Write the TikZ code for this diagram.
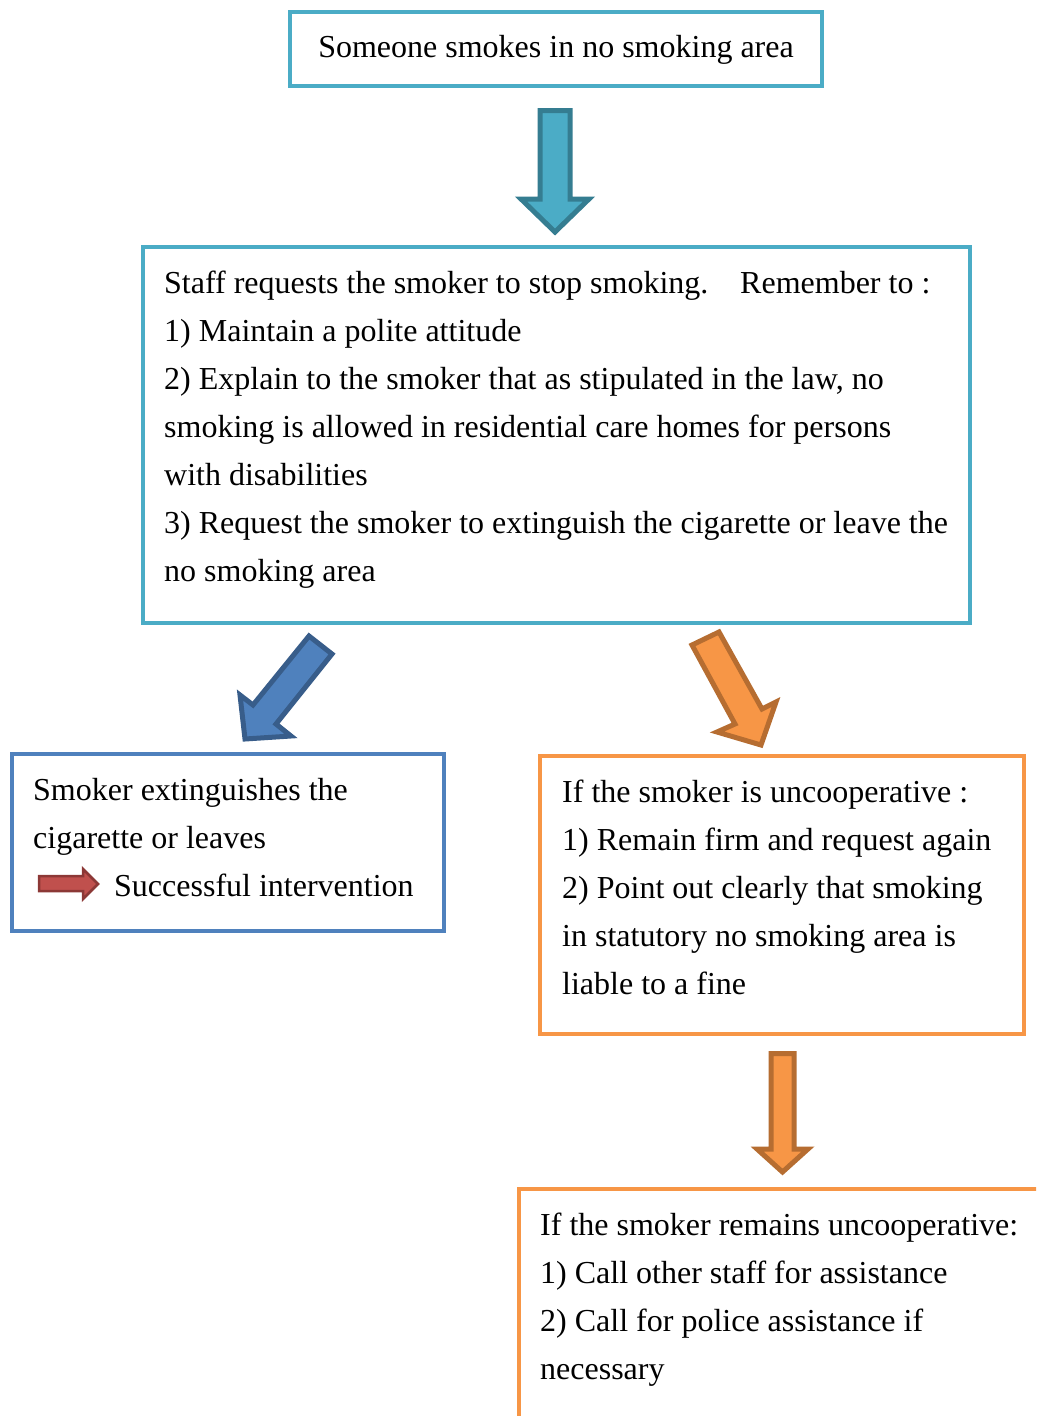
\documentclass[tikz,border=0pt]{standalone}
\usepackage{fontspec}
\setmainfont{Liberation Serif}
\definecolor{tealb}{HTML}{4BACC6}
\definecolor{tealdk}{HTML}{357D91}
\definecolor{blueb}{HTML}{4F81BD}
\definecolor{bluedk}{HTML}{385D8A}
\definecolor{orangeb}{HTML}{F79646}
\definecolor{orangedk}{HTML}{B66D31}
\definecolor{redb}{HTML}{C0504D}
\definecolor{reddk}{HTML}{8C3836}
\begin{document}
\begin{tikzpicture}[x=1pt,y=-1pt,
  framebox/.style={draw, line width=4pt, inner sep=0pt, fill=none},
  txt/.style={font=\fontsize{32}{48}\selectfont, align=left, inner sep=0pt, anchor=base west},
  blockarrow/.style={line width=5pt, line join=miter}]
\useasboundingbox (0,0) rectangle (1036,1416);
\clip (0,0) rectangle (1036,1416);

% boxes
\node[framebox, draw=tealb, minimum width=532pt, minimum height=74pt] (topbox) at (556,49) {};
\node[framebox, draw=tealb, minimum width=827pt, minimum height=376pt] (bigbox) at (556.5,435) {};
\node[framebox, draw=blueb, minimum width=432pt, minimum height=177pt] (leftbox) at (228,842.5) {};
\node[framebox, draw=orangeb, minimum width=484pt, minimum height=278pt] (rightbox) at (782,895) {};
\node[framebox, draw=orangeb, minimum width=561pt, minimum height=271pt] (bottombox) at (799.5,1324.5) {};

% texts (anchor = baseline of the last line)
\node[txt, anchor=base] (toptext) at (556,57) {Someone smokes in no smoking area};
\node[txt] (bigtext) at (164,581) {\makebox[576pt][l]{Staff requests the smoker to stop smoking.}Remember to :\\
1) Maintain a polite attitude\\
2) Explain to the smoker that as stipulated in the law, no\\
smoking is allowed in residential care homes for persons\\
with disabilities\\
3) Request the smoker to extinguish the cigarette or leave the\\
no smoking area};
\node[txt] (lefttext) at (33,896) {Smoker extinguishes the\\
cigarette or leaves\\
\hspace*{81pt}Successful intervention};
\node[txt] (righttext) at (562,994) {If the smoker is uncooperative :\\
1) Remain firm and request again\\
2) Point out clearly that smoking\\
in statutory no smoking area is\\
liable to a fine};
\node[txt] (bottomtext) at (540,1379) {If the smoker remains uncooperative:\\
1) Call other staff for assistance\\
2) Call for police assistance if\\
necessary};

% block arrows
\filldraw[blockarrow, fill=tealb, draw=tealdk]
  (540,110.5) -- (570,110.5) -- (570,199) -- (589,199) -- (555,232) -- (521,199) -- (540,199) -- cycle;
\filldraw[blockarrow, fill=blueb, draw=bluedk]
  (309,636) -- (332,654) -- (276,724) -- (291,736) -- (245,739) -- (240,695) -- (253,705) -- cycle;
\filldraw[blockarrow, fill=orangeb, draw=orangedk]
  (692,645) -- (719,632) -- (762,709) -- (776,702) -- (761,745) -- (717,732) -- (735,724) -- cycle;
\filldraw[blockarrow, fill=orangeb, draw=orangedk]
  (771,1053.5) -- (794,1053.5) -- (794,1149) -- (808,1149) -- (782.5,1172) -- (757,1149) -- (771,1149) -- cycle;
\filldraw[line width=2.5pt, line join=miter, fill=redb, draw=reddk]
  (39,876) -- (83,876) -- (83,869) -- (98,884) -- (83,899) -- (83,891) -- (39,891) -- cycle;
\end{tikzpicture}
\end{document}
